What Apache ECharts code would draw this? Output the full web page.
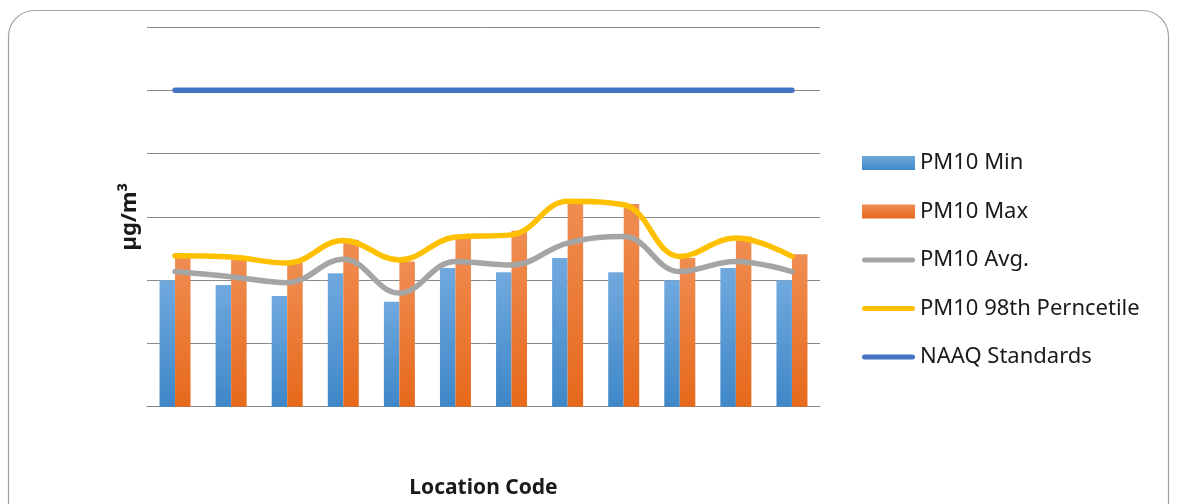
<!DOCTYPE html>
<html><head><meta charset="utf-8">
<script src="https://cdn.jsdelivr.net/npm/echarts@6/dist/echarts.min.js"></script>
<style>html,body{margin:0;padding:0;background:#fff}#c{width:1177px;height:504px}</style>
</head><body><div id="c"></div>
<script>
const categories = ['L1','L2','L3','L4','L5','L6','L7','L8','L9','L10','L11','L12'];
const pm10Min = [40, 38.5, 35, 42.2, 33.2, 43.8, 42.5, 47, 42.5, 40, 43.8, 40];
const pm10Max = [47, 46.4, 45.4, 52.8, 45.9, 53.3, 55.6, 65.1, 64.1, 47, 53.8, 48.2];
const pm10Avg = [42.7, 41.1, 39.2, 46.6, 35.9, 45.9, 44.8, 51.7, 53.8, 42.7, 45.9, 42.7];
const pm10P98 = [47.7, 47.3, 45.4, 52.5, 46.4, 53.6, 54.3, 64.9, 63.8, 47.5, 53.3, 47.5];
const naaq = [100,100,100,100,100,100,100,100,100,100,100,100];
const yTicks = {min: 0, max: 120, interval: 20};

const chart = echarts.init(document.getElementById('c'));
const grad = (a,b) => new echarts.graphic.LinearGradient(0,0,0,1,[{offset:0,color:a},{offset:1,color:b}]);
const font = '"Noto Sans", sans-serif';
const lineIcon = 'path://M2.5,0 L50.5,0 A2.5,2.5 0 0 1 50.5,5 L2.5,5 A2.5,2.5 0 0 1 2.5,0 Z';
chart.setOption({
  animation: false,
  graphic: [{type:'rect', shape:{x:8.5,y:10.5,width:1160,height:520,r:26}, style:{fill:'none',stroke:'#a0a0a0',lineWidth:1.2}, z:-10}],
  grid: {left:147, right:357, top:27, bottom:97.3, outerBoundsMode:'none', containLabel:false},
  legend: {
    orient:'vertical', left:862, top:152, padding:0, itemWidth:53, itemHeight:14, itemGap:26.5,
    textStyle:{fontSize:22, lineHeight:22, color:'#1a1a1a', fontFamily:font},
    data:[
      {name:'PM10 Min', icon:'rect'},
      {name:'PM10 Max', icon:'rect'},
      {name:'PM10 Avg.', icon:lineIcon},
      {name:'PM10 98th Perncetile', icon:lineIcon},
      {name:'NAAQ Standards', icon:lineIcon}
    ]
  },
  xAxis: {
    type:'category', data:categories,
    axisLabel:{show:false}, axisTick:{show:false},
    axisLine:{lineStyle:{color:'#8a8a8a', width:1}},
    name:'Location Code', nameLocation:'middle', nameGap:71,
    nameTextStyle:{fontSize:21, fontWeight:'bold', color:'#1a1a1a', fontFamily:font}
  },
  yAxis: {
    type:'value', min:yTicks.min, max:yTicks.max, interval:yTicks.interval,
    axisLabel:{show:false}, axisTick:{show:false}, axisLine:{show:false},
    splitLine:{lineStyle:{color:'#8a8a8a', width:1}},
    name:'µg/m³', nameLocation:'middle', nameGap:6,
    nameTextStyle:{fontSize:22, fontWeight:'bold', color:'#1a1a1a', fontFamily:font}
  },
  series: [
    {name:'PM10 Min', type:'bar', data:pm10Min, barWidth:15.5, barGap:'0%',
     itemStyle:{color:grad('#70a9de','#3f87c8')}},
    {name:'PM10 Max', type:'bar', data:pm10Max, barWidth:15.5, barGap:'0%',
     itemStyle:{color:grad('#f08d52','#e6691b')}},
    {name:'PM10 Avg.', type:'line', data:pm10Avg, smooth:0.4, symbol:'none',
     lineStyle:{color:'#a5a5a5', width:5.5, cap:'round'}, itemStyle:{color:'#a5a5a5'}},
    {name:'PM10 98th Perncetile', type:'line', data:pm10P98, smooth:0.4, symbol:'none',
     lineStyle:{color:'#ffc000', width:5.5, cap:'round'}, itemStyle:{color:'#ffc000'}},
    {name:'NAAQ Standards', type:'line', data:naaq, symbol:'none',
     lineStyle:{color:'#4472c4', width:5.5, cap:'round'}, itemStyle:{color:'#4472c4'}}
  ]
});
</script></body></html>
